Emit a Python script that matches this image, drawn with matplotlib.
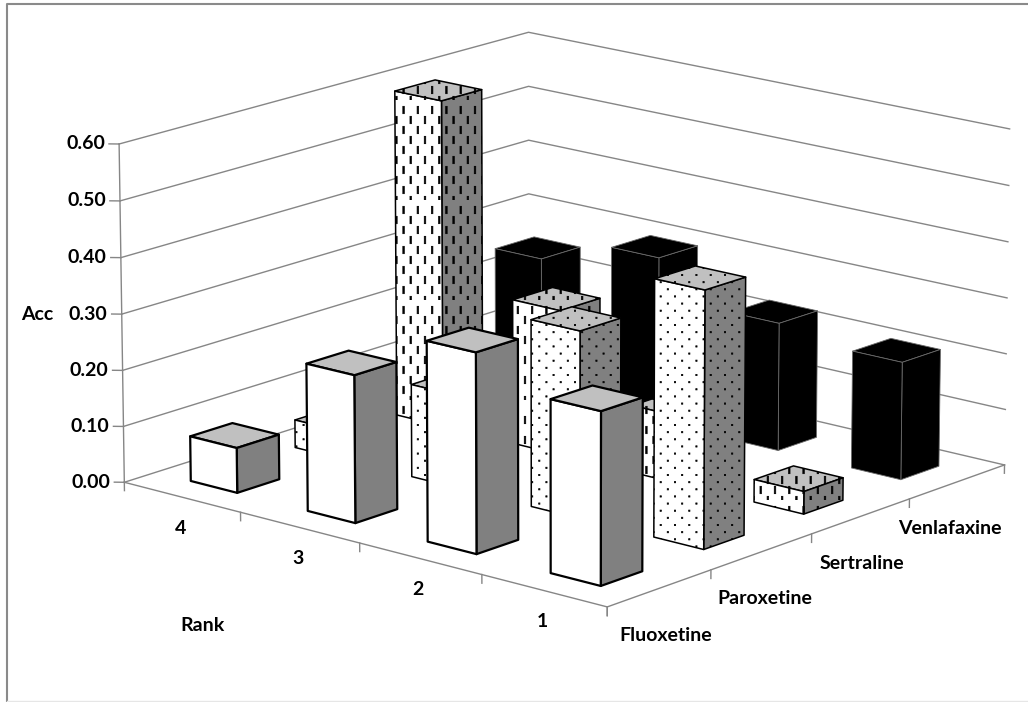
import numpy as np
import matplotlib
matplotlib.use("Agg")
import matplotlib.pyplot as plt
import matplotlib.hatch as mhatch
from matplotlib.path import Path
from matplotlib.lines import Line2D
from mpl_toolkits.mplot3d import proj3d
from mpl_toolkits.mplot3d.art3d import Poly3DCollection

ranks = ["4", "3", "2", "1"]
drugs = ["Fluoxetine", "Paroxetine", "Sertraline", "Venlafaxine"]
fluoxetine = [0.08, 0.26, 0.35, 0.30]
paroxetine = [0.05, 0.165, 0.33, 0.45]
sertraline = [0.59, 0.26, 0.12, 0.04]
venlafaxine = [0.25, 0.30, 0.23, 0.21]
acc_ticks = [0.0, 0.1, 0.2, 0.3, 0.4, 0.5, 0.6]


class DotHatch(mhatch.HatchPatternBase):
    # staggered grid of small square dots (used for '.')
    def __init__(self, hatch, density):
        self.n = 7 if "." in hatch else 0
        self.num_vertices = self.n * self.n * 2 * 5

    def set_vertices_and_codes(self, vertices, codes):
        s = 0.0065
        step = 1.0 / self.n
        sq = np.array([[-s, -s], [s, -s], [s, s], [-s, s], [-s, -s]])
        k = 0
        for i in range(self.n):
            for j in range(self.n):
                for off in (0.25, 0.75):
                    vertices[k:k + 5] = sq + [(i + off) * step, (j + off) * step]
                    codes[k:k + 5] = [Path.MOVETO, Path.LINETO, Path.LINETO,
                                      Path.LINETO, Path.CLOSEPOLY]
                    k += 5


class DashHatch(mhatch.HatchPatternBase):
    # short vertical dashes, every other column shifted (used for '|')
    def __init__(self, hatch, density):
        self.cols = 14 if "|" in hatch else 0
        self.rows = 5
        self.num_vertices = self.cols * self.rows * 5

    def set_vertices_and_codes(self, vertices, codes):
        hw, hl = 0.0075, 0.037
        dx = 1.0 / self.cols
        dy = 1.0 / self.rows
        k = 0
        for i in range(self.cols):
            shift = 0.5 * dy if i % 2 else 0.0
            for j in range(self.rows):
                cx = (i + 0.5) * dx
                cy = ((j + 0.5) * dy + shift) % 1.0
                rect = np.array([[cx - hw, cy - hl], [cx + hw, cy - hl],
                                 [cx + hw, cy + hl], [cx - hw, cy + hl],
                                 [cx - hw, cy - hl]])
                vertices[k:k + 5] = rect
                codes[k:k + 5] = [Path.MOVETO, Path.LINETO, Path.LINETO,
                                  Path.LINETO, Path.CLOSEPOLY]
                k += 5


mhatch._hatch_types = [DashHatch if t is mhatch.VerticalHatch
                       else DotHatch if t is mhatch.SmallFilledCircles
                       else t for t in mhatch._hatch_types]

plt.rcParams["font.family"] = ["Lato", "DejaVu Sans"]
plt.rcParams["font.weight"] = "bold"
plt.rcParams["hatch.color"] = "black"
plt.rcParams["hatch.linewidth"] = 0.5

W, H = 1028, 702
fig = plt.figure(figsize=(W / 100, H / 100), dpi=100)
S = 926
ax = fig.add_axes([90.5 / W, -79.5 / H, S / W, S / H], projection="3d",
                  proj_type="persp", focal_length=1.6)
ax.set_xlim(0, 4)
ax.set_ylim(0, 4)
ax.set_zlim(0, 0.6)
ax.set_box_aspect((1, 0.98, 0.552))
ax.view_init(elev=15.5, azim=-49.5)
ax.set_axis_off()
ax.computed_zorder = False

grid_col = "#868686"
# walls: horizontal gridlines on the left (rank 4) and back (Venlafaxine) walls
for z in acc_ticks:
    ax.plot([0, 0, 4], [0, 4, 4], [z, z, z], color=grid_col, lw=1.0, zorder=0)
    ax.plot([0, -0.05], [0, -0.04], [z, z], color=grid_col, lw=1.0, zorder=0)
ax.plot([0, 0], [0, 0], [0, 0.6], color=grid_col, lw=1.0, zorder=0)
ax.plot([0, 4, 4], [0, 0, 4], [0, 0, 0], color=grid_col, lw=1.0, zorder=0)
for i in range(5):
    ax.plot([i, i], [0, 0], [0, -0.015], color=grid_col, lw=1.0, zorder=0)
    ax.plot([4, 4], [i, i], [0, -0.015], color=grid_col, lw=1.0, zorder=0)

styles = [
    dict(fc=["white", "#808080", "#c0c0c0"], hatch=None, ec="black", lw=1.6),
    dict(fc=["white", "#808080", "#c0c0c0"], hatch=".", ec="black", lw=1.1),
    dict(fc=["white", "#808080", "#c0c0c0"], hatch="|", ec="black", lw=1.1),
    dict(fc=["black", "black", "black"], hatch=None, ec="#6a6a6a", lw=0.6),
]
series = [fluoxetine, paroxetine, sertraline, venlafaxine]
bw = 0.4
azim = np.deg2rad(-49.5)
for j, vals in enumerate(series):
    st = styles[j]
    for i, h in enumerate(vals):
        x0, y0 = i + 0.5 - bw / 2, j + 0.5 - bw / 2
        x1, y1 = x0 + bw, y0 + bw
        front = [(x0, y0, 0), (x1, y0, 0), (x1, y0, h), (x0, y0, h)]
        side = [(x1, y0, 0), (x1, y1, 0), (x1, y1, h), (x1, y0, h)]
        top = [(x0, y0, h), (x1, y0, h), (x1, y1, h), (x0, y1, h)]
        bar = Poly3DCollection([front, side, top], facecolors=st["fc"],
                               edgecolors=st["ec"], linewidths=st["lw"])
        if st["hatch"]:
            bar.set_hatch(st["hatch"])
        # paint far bars first
        bar.set_zorder(12 + (i + 0.5) * np.cos(azim) + (j + 0.5) * np.sin(azim))
        ax.add_collection3d(bar)

M = ax.get_proj()


def to2d(x, y, z):
    px, py, _ = proj3d.proj_transform(x, y, z, M)
    return px, py


lab = dict(fontsize=14, fontweight="bold", color="black", zorder=50,
           textcoords="offset pixels")
for z in acc_ticks:
    ax.annotate(f"{z:.2f}", to2d(0, 0, z), xytext=(-14, 0), ha="right",
                va="center", **lab)
ax.annotate("Acc", to2d(0, 0, 0.3), xytext=(-68, 0), ha="right", va="center", **lab)
for i, r in enumerate(ranks):
    ax.annotate(r, to2d(i + 0.5, 0, 0), xytext=(-2, -31), ha="center",
                va="center", **lab)
ax.annotate("Rank", to2d(0.5, 0, 0), xytext=(20, -128), ha="center", va="center", **lab)
drug_dx = [6, 3, 1, -7]
for j, d in enumerate(drugs):
    ax.annotate(d, to2d(4, j + 0.5, 0), xytext=(drug_dx[j], -47), ha="center",
                va="center", **lab)

# chart area frame
fig.add_artist(Line2D([7 / W, 7 / W, 1.0], [0, 1 - 4 / H, 1 - 4 / H],
                      transform=fig.transFigure, color="#8a8a8a", lw=1.5))
fig.add_artist(Line2D([7 / W, 1.0], [1.5 / H, 1.5 / H],
                      transform=fig.transFigure, color="#e6e6e6", lw=1.0))

fig.savefig("out.png", dpi=100)
